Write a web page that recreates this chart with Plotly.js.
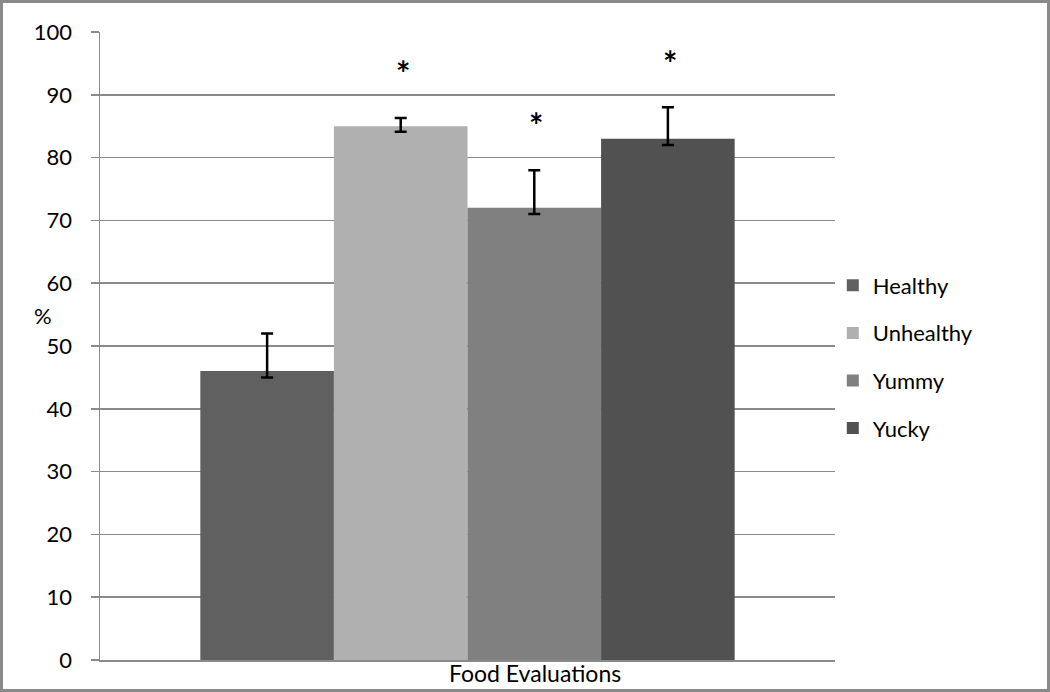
<!DOCTYPE html>
<html>
<head>
<meta charset="utf-8">
<script src="https://cdn.plot.ly/plotly-3.0.1.min.js"></script>
<style>
  body { margin: 0; background: #fff; }
  #wrap { position: relative; width: 1050px; height: 692px; }
  #frame { position: absolute; left: 0; top: 0; width: 1050px; height: 692px;
           box-sizing: border-box; border: 3px solid #8a8a8a; pointer-events: none; }
</style>
</head>
<body>
<div id="wrap">
  <div id="plot" style="width:1050px;height:692px;"></div>
  <div id="frame"></div>
</div>
<script>
// Food evaluation percentages
var category = ['Food Evaluations'];
var series = ['Healthy', 'Unhealthy', 'Yummy', 'Yucky'];
var values = [46, 85, 72, 83];
var errPlus = [6, 1.3, 6, 5];
var errMinus = [1, 0.9, 1, 1];
var significant = [false, true, true, true];
var barColours = ['#606060', '#b0b0b0', '#808080', '#515151'];

var fnt = 'Lato, "Open Sans", sans-serif';
var bargap = 0.273;

var data = [];
for (var i = 0; i < series.length; i++) {
  data.push({
    type: 'bar',
    name: series[i],
    x: category,
    y: [values[i]],
    marker: {color: barColours[i], line: {width: 0}},
    legendgroup: series[i],
    error_y: {
      type: 'data',
      symmetric: false,
      array: [errPlus[i]],
      arrayminus: [errMinus[i]],
      color: '#000',
      thickness: 2.5,
      width: 6
    },
    hoverinfo: 'name+y'
  });
}

// asterisks above the error bars of significant series
var annotations = [];
var groupW = 1 - bargap;
for (var j = 0; j < series.length; j++) {
  if (!significant[j]) continue;
  annotations.push({
    xref: 'x', yref: 'y',
    x: -groupW / 2 + (j + 0.5) * groupW / series.length,
    y: values[j] + errPlus[j] + 8,
    text: '<b>*</b>',
    showarrow: false,
    xshift: 2,
    yshift: -5,
    font: {family: fnt, size: 34, color: '#000'}
  });
}
annotations.push({
  xref: 'paper', yref: 'paper', x: -0.092, y: 0.548,
  text: '%', showarrow: false,
  font: {family: fnt, size: 22, color: '#000'}
});
annotations.push({
  xref: 'paper', yref: 'paper', x: 0.592, y: -0.0207,
  yanchor: 'middle',
  text: 'Food Evaluations', showarrow: false,
  font: {family: fnt, size: 23, color: '#000'}
});

var layout = {
  width: 1050,
  height: 692,
  margin: {l: 100, r: 215, t: 32, b: 32, pad: 0},
  paper_bgcolor: '#fff',
  plot_bgcolor: '#fff',
  barmode: 'group',
  bargap: bargap,
  bargroupgap: 0,
  showlegend: true,
  legend: {
    x: 0.997, xanchor: 'left',
    y: 0.4825, yanchor: 'middle',
    traceorder: 'grouped',
    tracegroupgap: 16,
    font: {family: fnt, size: 22, color: '#000'},
    bgcolor: 'rgba(0,0,0,0)'
  },
  xaxis: {
    type: 'category',
    showticklabels: false,
    ticks: '',
    showgrid: false,
    showline: true,
    linecolor: '#8a8a8a',
    linewidth: 1.5,
    fixedrange: true
  },
  yaxis: {
    range: [0, 100],
    dtick: 10,
    ticks: 'outside',
    ticklen: 8,
    tickcolor: '#8a8a8a',
    tickwidth: 1.5,
    ticklabelstandoff: 14,
    showgrid: true,
    gridcolor: '#8a8a8a',
    gridwidth: 1.5,
    zeroline: false,
    showline: true,
    linecolor: '#8a8a8a',
    linewidth: 1.5,
    tickfont: {family: fnt, size: 22, color: '#000'},
    fixedrange: true
  },
  annotations: annotations
};

Plotly.newPlot('plot', data, layout, {displayModeBar: false, staticPlot: true});
</script>
</body>
</html>
